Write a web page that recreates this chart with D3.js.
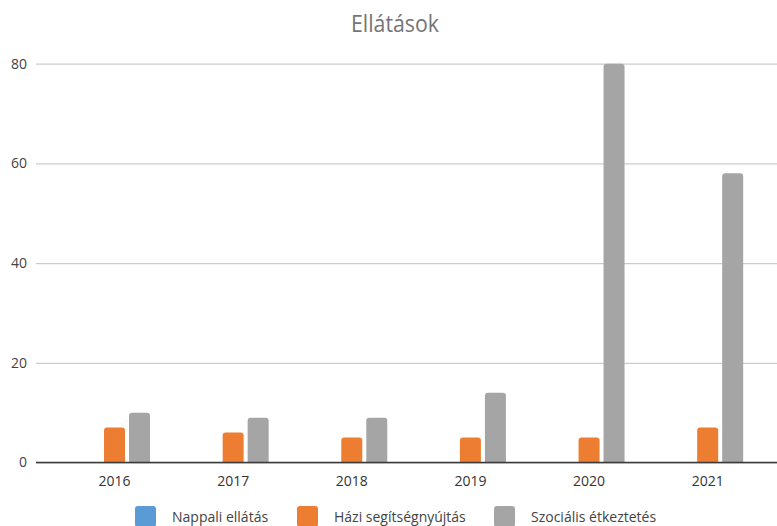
<!DOCTYPE html>
<html>
<head>
<meta charset="utf-8">
<script src="https://cdn.jsdelivr.net/npm/d3@7"></script>
<style>
  body { margin: 0; background: #fff; }
  svg { display: block; font-family: "Open Sans", "Noto Sans", sans-serif; }
</style>
</head>
<body>
<svg id="chart" width="777" height="526"></svg>
<script>
// Data
const years = ["2016", "2017", "2018", "2019", "2020", "2021"];
const seriesNames = ["Nappali ellátás", "Házi segítségnyújtás", "Szociális étkeztetés"];
const nappali = [0, 0, 0, 0, 0, 0];
const hazi = [7, 6, 5, 5, 5, 7];
const szocialis = [10, 9, 9, 14, 80, 58];
const yTicks = [0, 20, 40, 60, 80];
const colors = ["#5b9bd5", "#ed7d31", "#a5a5a5"];

const seriesValues = [nappali, hazi, szocialis];

const svg = d3.select("#chart");

const x0 = d3.scaleBand().domain(years).range([55.2, 767]).paddingInner(0).paddingOuter(0);
const groupW = 71;
const groupOff = (x0.bandwidth() - groupW) / 2;
const x1 = d3.scaleBand().domain(seriesNames)
  .range([groupOff, groupOff + groupW]).paddingInner(0.16).paddingOuter(0);
const y = d3.scaleLinear().domain([0, 80]).range([462.5, 63.7]);
const color = d3.scaleOrdinal().domain(seriesNames).range(colors);

// Title
svg.append("text")
  .attr("x", 395).attr("y", 32)
  .attr("text-anchor", "middle")
  .attr("font-size", 24)
  .attr("fill", "#757575")
  .attr("textLength", 88)
  .attr("lengthAdjust", "spacingAndGlyphs")
  .text("Ellátások");

// Horizontal gridlines and y labels
const yAxis = d3.axisLeft(y).tickValues(yTicks).tickSize(-(777 - 36)).tickPadding(9).tickFormat(d3.format("d"));
const gy = svg.append("g").attr("transform", "translate(36,0)").call(yAxis);
gy.select(".domain").remove();
gy.selectAll(".tick line").attr("stroke", "#cccccc").attr("stroke-width", 1.3);
gy.selectAll(".tick text")
  .attr("fill", "#444").attr("font-size", 14)
  .style("font-family", "'Open Sans', 'Noto Sans', sans-serif");

// Bars with rounded top corners
function barPath(xl, w, yt, yb, r) {
  const rr = Math.min(r, (yb - yt), w / 2);
  if (yb - yt <= 0) return "";
  return `M${xl},${yb}V${yt + rr}Q${xl},${yt} ${xl + rr},${yt}H${xl + w - rr}Q${xl + w},${yt} ${xl + w},${yt + rr}V${yb}Z`;
}

const groups = svg.append("g").selectAll("g")
  .data(years)
  .join("g")
  .attr("transform", d => `translate(${x0(d)},0)`);

groups.selectAll("path")
  .data((d, i) => seriesNames.map((s, k) => ({ s, v: seriesValues[k][i] })))
  .join("path")
  .attr("fill", d => color(d.s))
  .attr("d", d => barPath(x1(d.s), x1.bandwidth(), y(d.v), y(0), 3));

// Zero baseline
svg.append("line")
  .attr("x1", 36).attr("x2", 777)
  .attr("y1", y(0)).attr("y2", y(0))
  .attr("stroke", "#3a3a3a").attr("stroke-width", 1.6);

// X axis labels
const xAxis = d3.axisBottom(x0).tickSize(0).tickPadding(14);
const gx = svg.append("g").attr("transform", `translate(0,${y(0)})`).call(xAxis);
gx.select(".domain").remove();
gx.selectAll(".tick text")
  .attr("fill", "#333").attr("font-size", 14)
  .style("font-family", "'Open Sans', 'Noto Sans', sans-serif");

// Legend
const legendX = [135, 297, 494];
const legend = svg.append("g").selectAll("g")
  .data(seriesNames)
  .join("g")
  .attr("transform", (d, i) => `translate(${legendX[i]},506)`);
legend.append("rect")
  .attr("width", 21).attr("height", 21).attr("rx", 3)
  .attr("fill", d => color(d));
legend.append("text")
  .attr("x", 37).attr("y", 16)
  .attr("font-size", 14)
  .attr("fill", "#444")
  .text(d => d);
</script>
</body>
</html>
